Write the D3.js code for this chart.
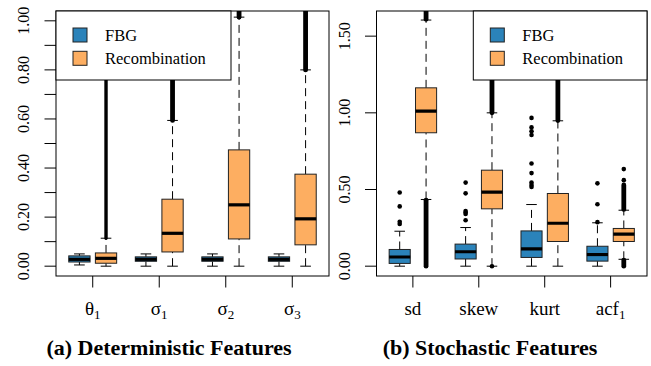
<!DOCTYPE html>
<html>
<head>
<meta charset="utf-8">
<script src="https://cdn.jsdelivr.net/npm/d3@7"></script>
<style>
  body { margin: 0; background: #fff; }
  svg text, svg tspan { font-family: "Liberation Serif", "Times New Roman", serif !important; }
</style>
</head>
<body>
<script>
// boxplot stats: [lower whisker, q1, median, q3, upper whisker]
var detNames = ["θ", "σ", "σ", "σ"],
    detSubs = ["1", "1", "2", "3"];
var detFBG = [[0.005, 0.017, 0.028, 0.042, 0.05],
              [0, 0.02, 0.028, 0.038, 0.05],
              [0, 0.02, 0.028, 0.038, 0.05],
              [0, 0.02, 0.028, 0.038, 0.05]];
var detRecomb = [[0, 0.012, 0.032, 0.054, 0.114],
                 [0, 0.058, 0.134, 0.273, 0.594],
                 [0, 0.111, 0.25, 0.474, 1.015],
                 [0, 0.087, 0.193, 0.375, 0.80]];
// solid runs of overlapping outlier points [from, to]
var detRecombRuns = [[[0.114, 0.95]], [[0.594, 1.1]], [[1.015, 1.1]], [[0.80, 1.1]]];

var stoNames = ["sd", "skew", "kurt", "acf"],
    stoSubs = ["", "", "", "1"];
var stoFBG = [[0, 0.018, 0.06, 0.109, 0.228],
              [0, 0.047, 0.094, 0.144, 0.252],
              [0, 0.057, 0.113, 0.23, 0.402],
              [0, 0.033, 0.076, 0.13, 0.283]];
var stoFBGOut = [[0.48, 0.39, 0.29, 0.275],
                 [0.545, 0.475, 0.36, 0.35, 0.34, 0.30],
                 [0.967, 0.905, 0.88, 0.855, 0.67, 0.607, 0.545, 0.53, 0.517],
                 [0.54, 0.404, 0.287]];
var stoRecomb = [[0.435, 0.87, 1.011, 1.163, 1.605],
                 [0, 0.374, 0.483, 0.626, 1.0],
                 [0, 0.161, 0.28, 0.474, 0.948],
                 [0.045, 0.161, 0.209, 0.246, 0.365]];
var stoRecombOut = [[], [0], [], [0.633, 0.561]];
var stoRecombRuns = [[[0, 0.43], [1.61, 1.8]], [[1.0, 1.8]], [[0.95, 1.8]], [[0, 0.04], [0.37, 0.53]]];

var legendLabels = ["FBG", "Recombination"];
var colors = ["#2B83BA", "#FDAE61"];

var width = 651, height = 366;
var fontName = "Liberation Serif";
var svg = d3.select("body").append("svg")
    .attr("width", width)
    .attr("height", height);

function panel(opt){
  var x = d3.scaleLinear().domain([0.12, 10.38]).range([opt.left, opt.right]);
  var y = d3.scaleLinear().domain(opt.ydom).range([276, 11]);
  var g = svg.append("g");
  var clipId = "clip" + opt.id;
  svg.append("clipPath").attr("id", clipId)
    .append("rect").attr("x", opt.left).attr("y", 11)
    .attr("width", opt.right - opt.left).attr("height", 265);
  var plot = g.append("g").attr("clip-path", "url(#" + clipId + ")");

  // group centres: pairs at 1,2 / 3.5,4.5 / 6,7 / 8.5,9.5
  var centers = [1.5, 4, 6.5, 9];
  var bw = 0.8, capw = 0.4;

  function drawBox(stat, pos, fill){
    var b = plot.append("g");
    var xc = x(pos), hw = (x(bw) - x(0)) / 2, cw = (x(capw) - x(0)) / 2;
    // whiskers
    [[stat[0], stat[1]], [stat[3], stat[4]]].forEach(function(w){
      b.append("line").attr("x1", xc).attr("x2", xc)
        .attr("y1", y(w[0])).attr("y2", y(w[1]))
        .attr("stroke", "#000").attr("stroke-dasharray", "8,5");
    });
    [stat[0], stat[4]].forEach(function(v){
      b.append("line").attr("x1", xc - cw).attr("x2", xc + cw)
        .attr("y1", y(v)).attr("y2", y(v)).attr("stroke", "#000");
    });
    b.append("rect").attr("x", xc - hw).attr("width", 2 * hw)
      .attr("y", y(stat[3])).attr("height", y(stat[1]) - y(stat[3]))
      .attr("fill", fill).attr("stroke", "#222");
    b.append("line").attr("x1", xc - hw).attr("x2", xc + hw)
      .attr("y1", y(stat[2])).attr("y2", y(stat[2]))
      .attr("stroke", "#000").attr("stroke-width", 3.2);
  }
  function drawRuns(runs, pos, w){
    runs.forEach(function(r){
      plot.append("line").attr("x1", x(pos)).attr("x2", x(pos))
        .attr("y1", y(r[0])).attr("y2", y(r[1]))
        .attr("stroke", "#000").attr("stroke-width", w)
        .attr("stroke-linecap", "round");
    });
  }
  function drawPoints(vals, pos){
    plot.selectAll(null).data(vals).enter().append("circle")
      .attr("cx", x(pos)).attr("cy", function(d){ return y(d); })
      .attr("r", 2.3).attr("fill", "#000");
  }

  centers.forEach(function(c, i){
    drawBox(opt.fbg[i], c - 0.5, colors[0]);
    if (opt.fbgOut) drawPoints(opt.fbgOut[i], c - 0.5);
    drawBox(opt.rec[i], c + 0.5, colors[1]);
    // theta_1 outliers are sparser, so the run looks thinner
    if (opt.recRuns) drawRuns(opt.recRuns[i], c + 0.5, (opt.id == "a" && i == 0) ? 3.4 : 4.8);
    if (opt.recOut) drawPoints(opt.recOut[i], c + 0.5);
  });

  // frame
  g.append("rect").attr("x", opt.left).attr("y", 11)
    .attr("width", opt.right - opt.left).attr("height", 265)
    .attr("fill", "none").attr("stroke", "#000");

  // y axis
  var yAxis = g.append("g");
  yAxis.selectAll(null).data(opt.yticks).enter().append("line")
    .attr("x1", opt.left - 11.5).attr("x2", opt.left)
    .attr("y1", function(d){ return y(d); }).attr("y2", function(d){ return y(d); })
    .attr("stroke", "#000");
  yAxis.selectAll(null).data(opt.ylabels).enter().append("text")
    .attr("transform", function(d){ return "translate(" + (opt.left - 27) + "," + y(d) + ") rotate(-90)"; })
    .attr("text-anchor", "middle")
    .attr("font-family", fontName).style("font-family", fontName).attr("font-size", 16)
    .text(function(d){ return d.toFixed(2); });

  // x axis
  var xAxis = g.append("g");
  xAxis.selectAll(null).data(centers).enter().append("line")
    .attr("x1", function(d){ return x(d); }).attr("x2", function(d){ return x(d); })
    .attr("y1", 276).attr("y2", 287.5).attr("stroke", "#000");
  var lab = xAxis.selectAll(null).data(centers).enter().append("text")
    .attr("x", function(d){ return x(d); }).attr("y", 315)
    .attr("text-anchor", "middle")
    .attr("font-family", fontName).style("font-family", fontName).attr("font-size", 19);
  lab.append("tspan").text(function(d, i){ return opt.names[i]; });
  lab.append("tspan").attr("font-size", 13).attr("dy", 4)
    .text(function(d, i){ return opt.subs[i]; });

  // legend
  var lg = g.append("g");
  lg.append("rect").attr("x", opt.legX).attr("y", 11)
    .attr("width", opt.legW).attr("height", 69)
    .attr("fill", "#fff").attr("stroke", "#000");
  legendLabels.forEach(function(t, i){
    var cy = 35 + i * 23.3;
    lg.append("rect").attr("x", opt.legX + 17).attr("y", cy - 7)
      .attr("width", 14).attr("height", 14)
      .attr("fill", colors[i]).attr("stroke", "#222");
    lg.append("text").attr("x", opt.legX + 49).attr("y", cy + 6)
      .attr("font-family", fontName).style("font-family", fontName)
      .attr("font-size", 16.5).text(t);
  });

  // panel title
  svg.append("text").attr("x", opt.titleX).attr("y", 355)
    .attr("text-anchor", "middle")
    .attr("font-family", fontName).style("font-family", fontName)
    .attr("font-size", 22).attr("font-weight", "bold")
    .text(opt.title);
}

panel({id: "a", left: 56, right: 329, ydom: [-0.04, 1.04],
       yticks: d3.range(0, 11).map(function(d){ return d / 10; }),
       ylabels: [0, 0.2, 0.4, 0.6, 0.8, 1.0],
       fbg: detFBG, rec: detRecomb, recRuns: detRecombRuns,
       names: detNames, subs: detSubs,
       legX: 56, legW: 175, titleX: 169, title: "(a) Deterministic Features"});

panel({id: "b", left: 376.5, right: 647, ydom: [-0.064, 1.664],
       yticks: [0, 0.5, 1.0, 1.5], ylabels: [0, 0.5, 1.0, 1.5],
       fbg: stoFBG, fbgOut: stoFBGOut, rec: stoRecomb, recRuns: stoRecombRuns, recOut: stoRecombOut,
       names: stoNames, subs: stoSubs,
       legX: 473.3, legW: 173.7, titleX: 490, title: "(b) Stochastic Features"});
</script>
</body>
</html>
